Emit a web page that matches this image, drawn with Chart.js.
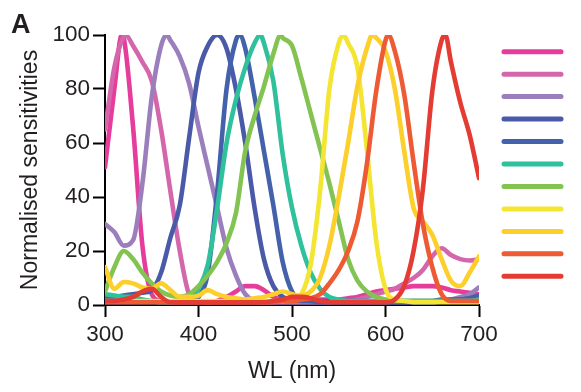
<!DOCTYPE html>
<html><head><meta charset="utf-8">
<script src="https://cdn.jsdelivr.net/npm/chart.js@4"></script>
<style>html,body{margin:0;padding:0;background:#fff;}</style>
</head><body>
<canvas id="c" width="581" height="392"></canvas>
<script>
// Wavelength grid (nm)
const wavelengths = [300,310,320,330,340,350,360,370,380,390,400,410,420,430,440,450,460,470,480,490,500,510,520,530,540,550,560,570,580,590,600,610,620,630,640,650,660,670,680,690,700];

// Normalised sensitivities for each opsin
const pink1    = [51,80,99,66,22,4,1.5,1,1,1, 1,1,1.5,3,5,7,7,5.5,3,2, 1.5,1.5,1.5,2,2,2,2.5,3,4,5, 5.5,6,6.5,7,7,7,6.5,5.5,5,4.5, 4];
const pink2    = [65,88,99.5,96,90,83,65,42,20,4, 1.5,1,1,1,1,1,1,1,1,1, 1,1,1,1,1,1.5,1.5,2,3,4, 5,6,8,10,13,18,21,18.5,17,16.5, 17];
const lavender = [30,27,22,24,45,77,96,98,92,82, 66,51,36,21,11,4,1.5,1,1,1, 1,1,1,1,1,1,1,1,1,1, 1,1,1,1,1,1,1.5,2,3,4, 6.5];
const blue1    = [3,3,3.5,4,4.5,5.5,12,25,37,62, 86,96,99.5,95,80,60,36,17,7,3, 2,1.5,1.5,1.5,1.5,1.5,1.5,1.5,1.5,1.5, 1.5,1.5,1.5,1.5,1.5,1.5,2,2,2,2.5, 3];
const blue2    = [1,1,1,1,1,1,1,1,1,1, 3,12,42,80,98,95,77,57,37,16, 5,2,1.5,1,1,1,1,1,1,1, 1,1,1,1,1,1,1.5,1.5,2,2.5, 3.5];
const teal     = [4,3.5,3,3,2,1.5,1,1,1.5,2, 6,15,36,60,76,88,97,97,83,56, 36,22,12,6,3,2,1.5,1.5,1.5,1.5, 1.5,1.5,1.5,1.5,1.5,1.5,1.5,1.5,1.5,1.5, 2];
const green    = [5,14,20,17,12,8,5,3.5,3,4, 7,11,16,23,34,57,70,81,93,99, 96,84,71,58,45,31,17,9,5,3, 2,1.5,1.5,1.5,1.5,1.5,1.5,1.5,1.5,1.5, 1.5];
const yellow   = [1.5,1.5,1.5,1.5,1.5,1.5,1.5,1.5,1.5,1.5, 1.5,1.5,1.5,1.5,1.5,1.5,1.5,1.5,1.5,1.5, 2,4,15,42,80,97,97,88,58,24, 6,2,1.5,1,1,1,1,1,1,1, 1];
const gold     = [14,6,8.5,8,6.5,6,8,5.5,3,3, 3.5,5.5,4,3,2.5,2,2.5,3,4,5, 4,3.5,5,10,22,40,60,81,95,99, 94,80,57,36,31,26,17,9,7,12, 18];
const orangeRed= [1,1,1,1,1,1,1,1,1,1, 1,1,1,1,1,1,1,1,1,1.5, 1.5,2,2.5,4,8,13,20,31,52,79, 98,94,78,53,30,14,4,1.5,1.5,1.5, 1.5];
const red      = [1.5,1.5,2,3,5,6,3,1,1,1, 1,1,1,1,1,1,1,1,1.5,2, 3,3,2.5,1.5,1,1,1,1,1,1, 1,2,7,20,43,79,98,90,75,63, 47];

// Peak wavelengths (value 100 at each)
const peakWL = [318, 322, 366, 420, 444, 466, 488, 555, 586, 603, 664];

const seriesValues = [pink1, pink2, lavender, blue1, blue2, teal, green, yellow, gold, orangeRed, red];
const seriesColors = ['#e63c9c','#d467ab','#9b7fbd','#4a5aa9','#4461ab','#2fc09c','#83c352','#f3e532','#fdcf2a','#ee5a33','#e43b33'];

const yTicks = [0,20,40,60,80,100];
const xTicks = [300,400,500,600,700];

const FONT = "'Liberation Sans', Arial, Helvetica, sans-serif";
const TXT = '#231f20';

function buildData(vals, peak) {
  const pts = [];
  wavelengths.forEach((w, i) => { if (w !== peak) pts.push({x: w, y: vals[i]}); });
  pts.push({x: peak, y: 100});
  pts.sort((a, b) => a.x - b.x);
  return pts;
}

const n = seriesValues.length;
const datasets = seriesValues.map((vals, i) => ({
  label: 'S' + (i + 1),
  data: buildData(vals, peakWL[i]),
  borderColor: seriesColors[i],
  backgroundColor: seriesColors[i],
  borderWidth: 4.6,
  pointRadius: 0,
  cubicInterpolationMode: 'monotone',
  borderCapStyle: 'round',
  borderJoinStyle: 'round',
  fill: false,
  order: n - 1 - i
}));

const lineLegend = {
  id: 'lineLegend',
  afterDraw(chart) {
    const ctx = chart.ctx;
    ctx.save();
    ctx.lineCap = 'round';
    ctx.lineWidth = 5;
    chart.data.datasets.forEach((ds, i) => {
      const y = 51.7 + i * 22.46;
      ctx.strokeStyle = ds.borderColor;
      ctx.beginPath();
      ctx.moveTo(504, y);
      ctx.lineTo(561, y);
      ctx.stroke();
    });
    ctx.restore();
  }
};

const panelLetter = {
  id: 'panelLetter',
  afterDraw(chart) {
    const ctx = chart.ctx;
    ctx.save();
    ctx.fillStyle = TXT;
    ctx.font = "bold 27px " + FONT;
    ctx.textBaseline = 'alphabetic';
    ctx.textAlign = 'left';
    ctx.fillText('A', 11, 33);
    ctx.restore();
  }
};

new Chart(document.getElementById('c'), {
  type: 'line',
  data: { datasets },
  options: {
    responsive: false,
    animation: false,
    devicePixelRatio: 1,
    layout: { padding: { top: 35, right: 102, left: 0, bottom: 0 } },
    plugins: { legend: { display: false }, tooltip: { enabled: false } },
    scales: {
      x: {
        type: 'linear', min: 300, max: 700,
        afterFit(s) { s.height = 87; },
        afterBuildTicks(s) { s.ticks = xTicks.map(v => ({value: v})); },
        border: { display: true, color: '#000', width: 2 },
        grid: { drawOnChartArea: false, drawTicks: true, tickLength: 12, tickColor: '#000', tickWidth: 2 },
        ticks: { color: TXT, font: { family: FONT, size: 22.5 }, padding: 4, maxRotation: 0 },
        title: { display: true, text: 'WL (nm)', color: TXT, font: { family: FONT, size: 23 }, padding: { top: 0, bottom: 7 } }
      },
      y: {
        min: 0, max: 100,
        afterFit(s) { s.width = 105; },
        afterBuildTicks(s) { s.ticks = yTicks.map(v => ({value: v})); },
        border: { display: true, color: '#000', width: 2 },
        grid: { drawOnChartArea: false, drawTicks: true, tickLength: 12, tickColor: '#000', tickWidth: 2 },
        ticks: { color: TXT, font: { family: FONT, size: 22.5 }, padding: 3 },
        title: { display: true, text: 'Normalised sensitivities', color: TXT, font: { family: FONT, size: 23 }, padding: { top: 17, bottom: 0 } }
      }
    }
  },
  plugins: [lineLegend, panelLetter]
});
</script>
</body></html>
